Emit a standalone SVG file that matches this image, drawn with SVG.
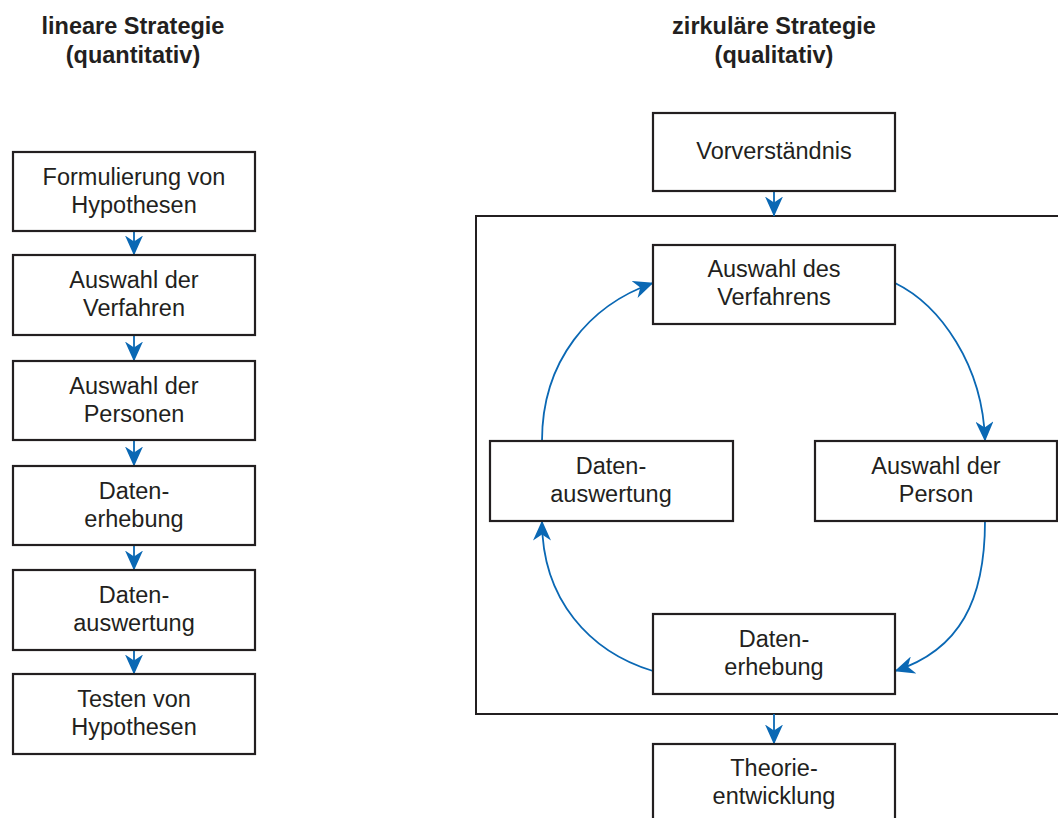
<svg xmlns="http://www.w3.org/2000/svg" width="1058" height="818" viewBox="0 0 1058 818">
<style>
.box{fill:#fff;stroke:#231f20;stroke-width:2.2}
.frame{fill:none;stroke:#231f20;stroke-width:2}
.t{font-family:"Liberation Sans",Arial,sans-serif;font-size:23.5px;fill:#231f20;text-anchor:middle}
.h{font-family:"Liberation Sans",Arial,sans-serif;font-size:23.5px;font-weight:bold;fill:#231f20;text-anchor:middle}
.c{fill:none;stroke:#0a68b4;stroke-width:1.8}
</style>
<defs>
<marker id="ah" viewBox="0 0 20 18" refX="19.5" refY="9" markerWidth="20" markerHeight="18" markerUnits="userSpaceOnUse" orient="auto">
<path d="M0,0 L20,9 L0,18 L6,9 z" fill="#0a68b4"/>
</marker>
</defs>
<rect width="1058" height="818" fill="#fff"/>
<text class="h" x="133" y="34">lineare Strategie</text>
<text class="h" x="133" y="63">(quantitativ)</text>
<text class="h" x="774" y="34">zirkuläre Strategie</text>
<text class="h" x="774" y="63">(qualitativ)</text>

<rect class="frame" x="476" y="216" width="600" height="498"/>

<g id="connectors">
<path class="c" d="M134,231 L134,255" marker-end="url(#ah)"/>
<path class="c" d="M134,335 L134,361" marker-end="url(#ah)"/>
<path class="c" d="M134,440 L134,466" marker-end="url(#ah)"/>
<path class="c" d="M134,545 L134,570" marker-end="url(#ah)"/>
<path class="c" d="M134,650 L134,674" marker-end="url(#ah)"/>
<path class="c" d="M774,191 L774,216" marker-end="url(#ah)"/>
<path class="c" d="M774,714 L774,744" marker-end="url(#ah)"/>
<path class="c" d="M895,283 C940,305 983,365 985,441" marker-end="url(#ah)"/>
<path class="c" d="M985,521 C985,600 960,650 895,671" marker-end="url(#ah)"/>
<path class="c" d="M653,671 C590,652 542,600 542,521" marker-end="url(#ah)"/>
<path class="c" d="M542,441 C542,360 590,305 653,283" marker-end="url(#ah)"/>
</g>

<g id="n1"><rect class="box" x="13" y="152" width="242" height="79"/><text class="t" x="134" y="185">Formulierung von</text><text class="t" x="134" y="213">Hypothesen</text></g>
<g id="n2"><rect class="box" x="13" y="255" width="242" height="80"/><text class="t" x="134" y="288">Auswahl der</text><text class="t" x="134" y="316">Verfahren</text></g>
<g id="n3"><rect class="box" x="13" y="361" width="242" height="79"/><text class="t" x="134" y="394">Auswahl der</text><text class="t" x="134" y="422">Personen</text></g>
<g id="n4"><rect class="box" x="13" y="466" width="242" height="79"/><text class="t" x="134" y="499">Daten-</text><text class="t" x="134" y="527">erhebung</text></g>
<g id="n5"><rect class="box" x="13" y="570" width="242" height="80"/><text class="t" x="134" y="603">Daten-</text><text class="t" x="134" y="631">auswertung</text></g>
<g id="n6"><rect class="box" x="13" y="674" width="242" height="80"/><text class="t" x="134" y="707">Testen von</text><text class="t" x="134" y="735">Hypothesen</text></g>

<g id="q1"><rect class="box" x="653" y="113" width="242" height="78"/><text class="t" x="774" y="159">Vorverständnis</text></g>
<g id="q2"><rect class="box" x="653" y="245" width="242" height="79"/><text class="t" x="774" y="277">Auswahl des</text><text class="t" x="774" y="305">Verfahrens</text></g>
<g id="q3"><rect class="box" x="490" y="441" width="243" height="80"/><text class="t" x="611" y="474">Daten-</text><text class="t" x="611" y="502">auswertung</text></g>
<g id="q4"><rect class="box" x="815" y="441" width="242" height="80"/><text class="t" x="936" y="474">Auswahl der</text><text class="t" x="936" y="502">Person</text></g>
<g id="q5"><rect class="box" x="653" y="614" width="242" height="80"/><text class="t" x="774" y="647">Daten-</text><text class="t" x="774" y="675">erhebung</text></g>
<g id="q6"><rect class="box" x="653" y="744" width="242" height="80"/><text class="t" x="774" y="776">Theorie-</text><text class="t" x="774" y="804">entwicklung</text></g>
</svg>
